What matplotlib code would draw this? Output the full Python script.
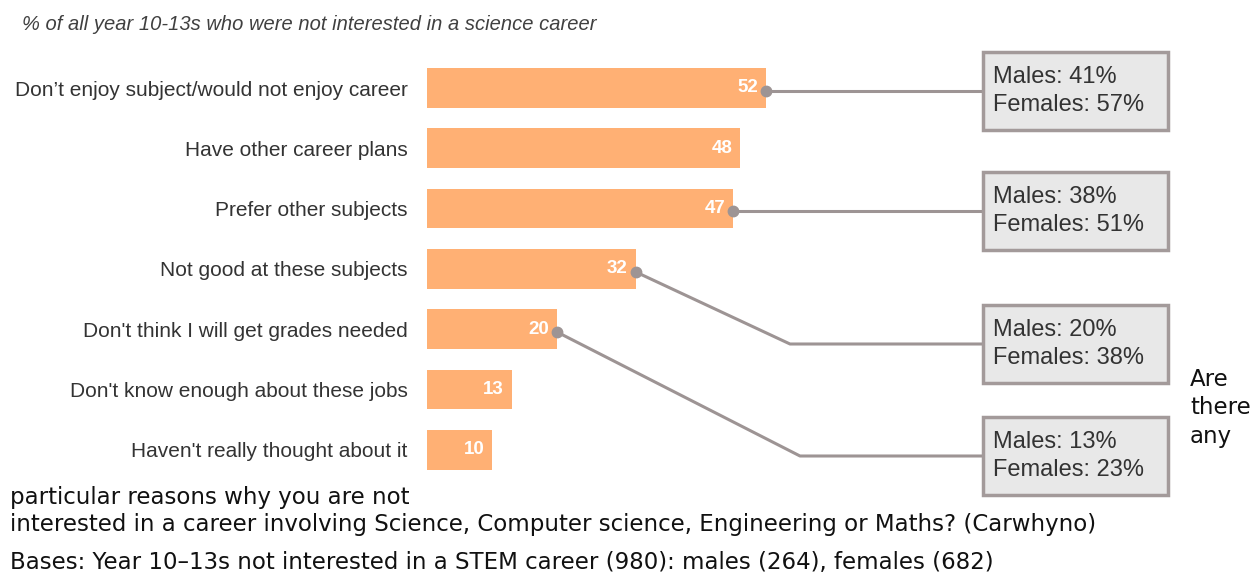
import matplotlib
matplotlib.use("Agg")
import matplotlib.pyplot as plt
from matplotlib.patches import Rectangle

# data
reasons = [
    "Don\u2019t enjoy subject/would not enjoy career",
    "Have other career plans",
    "Prefer other subjects",
    "Not good at these subjects",
    "Don't think I will get grades needed",
    "Don't know enough about these jobs",
    "Haven't really thought about it",
]
values = [52, 48, 47, 32, 20, 13, 10]

# gender split callouts: row index, males %, females %
callout_rows = [0, 2, 3, 4]
males = [41, 38, 20, 13]
females = [57, 51, 38, 23]

title = "% of all year 10-13s who were not interested in a science career"
question = ("particular reasons why you are not\n"
            "interested in a career involving Science, Computer science, Engineering or Maths? (Carwhyno)")
bases = "Bases: Year 10\u201313s not interested in a STEM career (980): males (264), females (682)"

W, H = 1259, 574
BAR = "#FFB074"
LINE = "#9d9494"
TXT = "#333333"

plt.rcParams["font.family"] = ["Liberation Sans", "DejaVu Sans"]

fig = plt.figure(figsize=(W / 100, H / 100), dpi=100)
x0, unit = 427, 6.52       # pixel of bar origin, pixels per percent
y0, step = 88, 60.3        # pixel of first row centre, row pitch
ax = fig.add_axes([x0 / W, 0, (W - x0) / W, 1])
ax.set_xlim(0, (W - x0) / unit)
ax.set_ylim((H - y0) / step, -y0 / step)

rows = range(len(values))
ax.barh(rows, values, height=0.66, color=BAR)
ax.set_yticks(list(rows), reasons)
ax.tick_params(axis="y", length=0, pad=14, labelsize=15, labelcolor=TXT)
ax.set_xticks([])
for s in ax.spines.values():
    s.set_visible(False)

for i, v in zip(rows, values):
    ax.text(v - 1.2, i, str(v), ha="right", va="center", color="white",
            fontsize=13.5, fontweight="bold")

def dx(px):
    return (px - x0) / unit

def dy(py):
    return (py - y0) / step

box_cy = [91, 211, 344, 456]
elbow_px = [None, None, 790, 800]
box_l, box_r, box_h = dx(983), dx(1168), 78 / step

for k, r in enumerate(callout_rows):
    v = values[r]
    cy = dy(box_cy[k])
    ys = r + 0.05
    if elbow_px[k] is None:
        xs, yl = [v, box_l], [cy, cy]
    else:
        xs, yl = [v, dx(elbow_px[k]), box_l], [ys, cy, cy]
    ax.plot(xs, yl, color=LINE, lw=2.2, clip_on=False, zorder=3)
    ax.plot(v, yl[0], "o", ms=7.5, color=LINE, clip_on=False, zorder=4)
    ax.add_patch(Rectangle((box_l, cy - box_h / 2), box_r - box_l, box_h,
                           facecolor="#e8e8e8", edgecolor="#a39a9a", lw=2.5,
                           clip_on=False, zorder=3))
    ax.text(dx(993), cy, f"Males: {males[k]}%\nFemales: {females[k]}%",
            ha="left", va="center", fontsize=17, color=TXT, linespacing=1.3,
            zorder=5)

fig.text(22 / W, 1 - 25 / H, title, style="italic", fontsize=14.5,
         color="#404040", va="center")

side = dict(family="DejaVu Sans", fontsize=16.5, color="#111111")
fig.text(10 / W, 1 - 511 / H, question, va="center", linespacing=1.27, **side)
fig.text(10 / W, 1 - 563 / H, bases, va="center", **side)
fig.text(1190 / W, 1 - 408 / H, "Are\nthere\nany", va="center",
         linespacing=1.3, **side)

fig.savefig("out.png", dpi=100)
